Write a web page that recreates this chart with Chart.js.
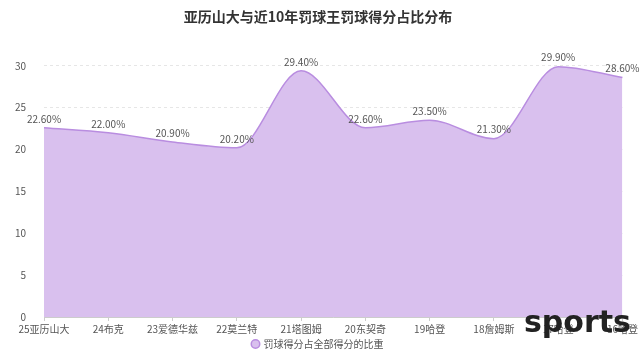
<!DOCTYPE html>
<html><head><meta charset="utf-8">
<script src="https://cdn.jsdelivr.net/npm/chart.js@4/dist/chart.umd.min.js"></script>
<style>
html,body{margin:0;padding:0;background:#fff;}
#wrap{position:relative;width:640px;height:359px;}
#wm{position:absolute;left:524px;top:304px;font:bold 30px "DejaVu Sans","Liberation Sans",sans-serif;color:#222;line-height:36px;}
</style>
</head><body>
<div id="wrap"><canvas id="c" width="640" height="359"></canvas><div id="wm">sports</div></div>
<script>
const categories = ["25亚历山大","24布克","23爱德华兹","22莫兰特","21塔图姆","20东契奇","19哈登","18詹姆斯","17哈登","16哈登"];
const shares = [22.6, 22.0, 20.9, 20.2, 29.4, 22.6, 23.5, 21.3, 29.9, 28.6];
const seriesName = "罚球得分占全部得分的比重";
const titleText = "亚历山大与近10年罚球王罚球得分占比分布";

const FONT = '"Noto Sans CJK SC","Noto Sans",sans-serif';

const labelPlugin = {
  id: 'vlabels',
  afterDatasetsDraw(chart) {
    const ctx = chart.ctx;
    const meta = chart.getDatasetMeta(0);
    ctx.save();
    ctx.font = '10px ' + FONT;
    ctx.fillStyle = '#555';
    ctx.textAlign = 'center';
    ctx.textBaseline = 'bottom';
    meta.data.forEach((pt, i) => {
      ctx.fillText(shares[i].toFixed(2) + '%', pt.x, pt.y - 4);
    });
    ctx.restore();
  }
};

new Chart(document.getElementById('c'), {
  type: 'line',
  data: {
    labels: categories,
    datasets: [{
      label: seriesName,
      data: shares,
      fill: 'origin',
      backgroundColor: 'rgba(217,192,238,1)',
      borderColor: '#b98de0',
      borderWidth: 1.5,
      pointRadius: 0,
      pointHoverRadius: 0,
      tension: 0.4,
      cubicInterpolationMode: 'monotone'
    }]
  },
  options: {
    responsive: false,
    animation: false,
    layout: { padding: { left: 2, right: 6, top: 0, bottom: 0 } },
    plugins: {
      title: {
        display: true, text: titleText, color: '#333',
        font: { family: FONT, size: 14, weight: 'bold' },
        padding: { top: 8, bottom: 41 }
      },
      legend: {
        display: true, position: 'bottom',
        labels: {
          usePointStyle: true, pointStyle: 'circle', boxWidth: 6, boxHeight: 6,
          color: '#555', font: { family: FONT, size: 10 }, padding: 2
        }
      },
      tooltip: { enabled: false }
    },
    scales: {
      x: {
        offset: false,
        grid: { display: true, drawOnChartArea: false, tickLength: 4, color: '#ccc' },
        border: { color: '#ccc' },
        ticks: { color: '#555', font: { family: FONT, size: 10 }, maxRotation: 0, autoSkip: false, padding: 2 }
      },
      y: {
        min: 0, max: 30,
        afterFit(scale) { scale.width = 42; },
        ticks: { stepSize: 5, color: '#555', font: { family: FONT, size: 10 }, padding: 18 },
        grid: { color: '#e6e6e6', tickLength: 0 },
        border: { display: false, dash: [3, 3] }
      }
    }
  },
  plugins: [labelPlugin]
});
</script>
</body></html>
